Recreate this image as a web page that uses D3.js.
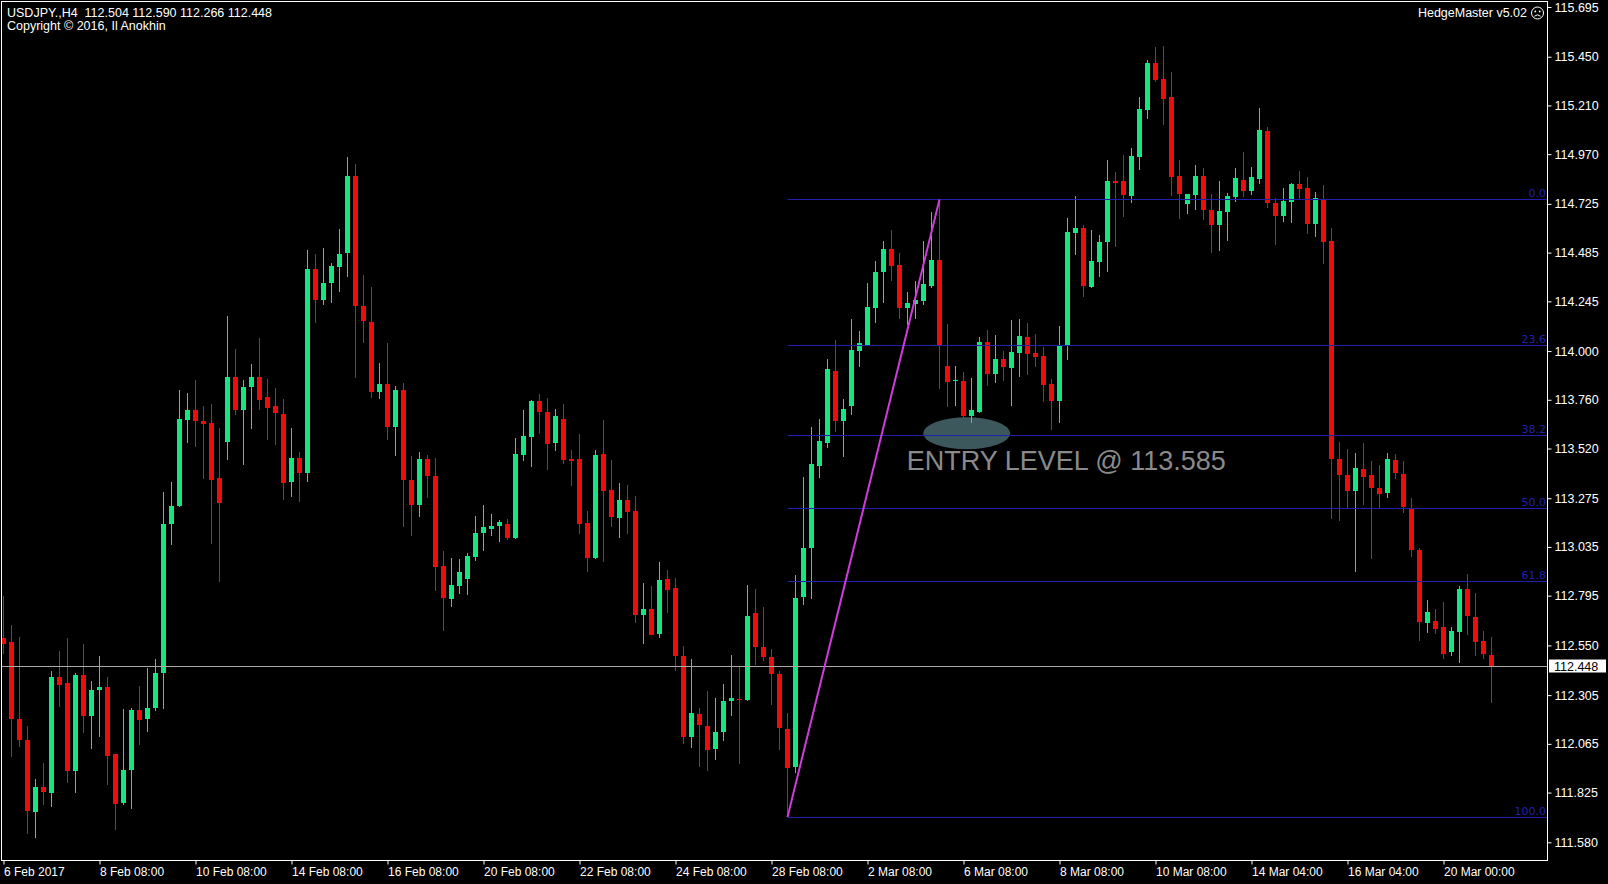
<!DOCTYPE html>
<html><head><meta charset="utf-8">
<script src="https://cdnjs.cloudflare.com/ajax/libs/d3/7.8.5/d3.min.js"></script>
<style>html,body{margin:0;padding:0;background:#000;overflow:hidden}</style>
</head><body><svg id="chart" width="1608" height="884"></svg>
<script>
// ---- DATA (USDJPY H4) ----
const opens = [112.588,112.566,112.185,112.083,111.728,111.850,111.826,112.396,112.366,111.931,112.405,112.202,112.329,112.346,112.016,111.770,111.935,112.232,112.188,112.239,112.413,113.146,113.234,113.660,113.708,113.657,113.647,113.373,113.552,113.874,113.711,113.823,113.874,113.772,113.727,113.691,113.353,113.473,113.399,114.406,114.251,114.336,114.418,114.480,114.860,114.221,114.144,113.799,113.838,113.625,113.808,113.366,113.243,113.468,113.383,112.940,112.783,112.845,112.875,112.986,113.101,113.127,113.137,113.150,113.080,113.489,113.580,113.755,113.702,113.547,113.666,113.470,113.470,113.153,112.982,113.494,113.317,113.181,113.268,113.214,112.703,112.731,112.605,112.878,112.831,112.498,112.097,112.212,112.151,112.036,112.122,112.272,112.286,112.281,112.708,112.540,112.491,112.408,112.140,111.948,112.787,113.028,113.435,113.547,113.903,113.656,113.731,114.001,114.031,114.213,114.386,114.501,114.426,114.213,114.232,114.248,114.323,114.450,113.928,113.853,113.853,113.680,113.700,114.047,113.889,113.962,113.920,113.992,114.071,113.989,113.975,113.838,113.756,114.025,114.582,114.608,114.316,114.439,114.538,114.840,114.837,114.767,114.958,115.185,115.417,115.340,115.250,114.860,114.723,114.767,114.860,114.693,114.619,114.685,114.759,114.844,114.788,114.848,115.083,114.730,114.666,114.735,114.824,114.805,114.628,114.748,114.541,113.469,113.390,113.311,113.419,113.387,113.325,113.297,113.462,113.394,113.225,113.018,112.661,112.672,112.642,112.516,112.615,112.826,112.691,112.572,112.504];
const highs = [112.794,112.650,112.591,112.151,111.894,111.973,112.425,112.520,112.588,112.413,112.557,112.374,112.498,112.396,112.016,112.236,112.244,112.351,112.439,112.481,113.305,113.356,113.806,113.792,113.857,113.728,113.738,113.620,114.173,114.009,113.857,113.936,114.066,113.861,113.817,113.763,113.620,113.505,114.500,114.480,114.510,114.434,114.603,114.958,114.922,114.374,114.316,113.943,114.041,113.828,113.845,113.481,113.505,113.489,113.473,113.014,112.981,112.976,113.006,113.189,113.243,113.199,113.170,113.173,113.571,113.710,113.757,113.787,113.768,113.714,113.738,113.514,113.593,113.214,113.514,113.661,113.461,113.350,113.342,113.288,112.855,112.842,112.960,112.921,112.883,112.547,112.485,112.240,112.326,112.289,112.359,112.502,112.446,112.850,112.827,112.738,112.530,112.422,112.218,112.896,113.379,113.626,113.666,113.962,114.055,113.765,114.159,114.100,114.337,114.446,114.544,114.598,114.485,114.292,114.347,114.540,114.687,114.747,114.134,113.928,113.897,113.869,114.067,114.106,114.080,114.001,114.153,114.156,114.139,114.083,114.021,113.861,114.123,114.657,114.762,114.619,114.595,114.571,114.939,114.881,114.968,115.001,115.253,115.433,115.496,115.504,115.373,114.939,114.775,114.919,114.903,114.775,114.837,114.778,114.903,114.980,114.906,115.196,115.102,114.754,114.801,114.829,114.886,114.858,114.782,114.820,114.604,113.550,113.518,113.499,113.545,113.456,113.437,113.499,113.494,113.456,113.274,113.029,112.774,112.728,112.766,112.642,112.845,112.902,112.808,112.619,112.590];
const lows = [112.506,111.999,112.050,111.620,111.603,111.762,111.754,112.248,111.872,111.821,112.117,112.041,112.100,111.863,111.640,111.765,111.742,112.058,112.121,112.227,112.236,113.044,113.234,113.547,113.525,113.369,113.051,112.862,113.462,113.687,113.440,113.615,113.711,113.560,113.538,113.265,113.281,113.255,113.353,114.136,114.226,114.238,114.292,114.365,113.866,114.041,113.768,113.763,113.560,113.484,113.134,113.088,113.183,113.276,112.818,112.620,112.741,112.801,112.796,112.965,113.014,113.088,113.058,113.070,113.075,113.457,113.429,113.593,113.416,113.506,113.445,113.334,113.101,112.911,112.977,112.960,113.134,113.080,113.101,112.659,112.556,112.600,112.588,112.711,112.425,112.064,112.043,111.950,111.930,111.987,112.081,112.200,111.966,112.276,112.452,112.471,112.258,112.033,111.704,111.922,112.748,112.777,113.376,113.522,113.601,113.478,113.686,113.922,114.027,114.140,114.238,114.347,114.160,114.130,114.160,114.225,114.311,113.814,113.725,113.731,113.561,113.646,113.696,113.830,113.843,113.853,113.730,113.874,113.882,113.923,113.751,113.609,113.648,113.956,114.472,114.264,114.313,114.366,114.390,114.513,114.660,114.729,114.890,115.144,115.324,115.116,114.762,114.652,114.673,114.696,114.647,114.483,114.493,114.542,114.734,114.759,114.767,114.824,114.703,114.523,114.636,114.632,114.748,114.575,114.560,114.429,113.174,113.161,113.225,112.911,113.240,112.977,113.225,113.278,113.368,113.202,112.986,112.572,112.610,112.604,112.484,112.497,112.465,112.600,112.497,112.484,112.266];
const closes = [112.557,112.185,112.080,111.731,111.850,111.826,112.396,112.358,111.931,112.405,112.202,112.332,112.346,112.007,111.770,111.935,112.232,112.185,112.244,112.413,113.149,113.237,113.665,113.711,113.654,113.643,113.366,113.251,113.874,113.711,113.823,113.874,113.762,113.718,113.691,113.353,113.473,113.399,114.406,114.251,114.336,114.418,114.480,114.860,114.221,114.149,113.799,113.838,113.625,113.808,113.363,113.243,113.468,113.383,112.937,112.783,112.850,112.914,112.990,113.104,113.132,113.140,113.157,113.080,113.494,113.583,113.755,113.702,113.542,113.681,113.465,113.462,113.150,112.982,113.489,113.314,113.186,113.268,113.211,112.703,112.731,112.605,112.872,112.826,112.495,112.097,112.217,112.158,112.031,112.122,112.277,112.289,112.281,112.695,112.540,112.491,112.408,112.140,111.948,112.783,113.028,113.443,113.557,113.913,113.656,113.715,114.007,114.041,114.219,114.390,114.501,114.416,114.213,114.238,114.252,114.331,114.450,114.031,113.849,113.858,113.680,113.711,114.047,113.889,113.962,113.922,113.997,114.074,113.985,113.969,113.833,113.756,114.025,114.586,114.608,114.324,114.444,114.538,114.837,114.832,114.767,114.963,115.193,115.417,115.335,115.242,114.857,114.772,114.772,114.860,114.693,114.619,114.690,114.762,114.852,114.791,114.857,115.087,114.730,114.666,114.741,114.824,114.801,114.628,114.754,114.534,113.466,113.390,113.311,113.424,113.381,113.325,113.297,113.466,113.400,113.231,113.018,112.661,112.717,112.634,112.510,112.619,112.826,112.691,112.567,112.510,112.448];

const timeLabels = ["6 Feb 2017","8 Feb 08:00","10 Feb 08:00","14 Feb 08:00","16 Feb 08:00","20 Feb 08:00","22 Feb 08:00","24 Feb 08:00","28 Feb 08:00","2 Mar 08:00","6 Mar 08:00","8 Mar 08:00","10 Mar 08:00","14 Mar 04:00","16 Mar 04:00","20 Mar 00:00"];
const timeLabelBars = [0,12,24,36,48,60,72,84,96,108,120,132,144,156,168,180];
const priceTicks = [115.695,115.450,115.210,114.970,114.725,114.485,114.245,114.000,113.760,113.520,113.275,113.035,112.795,112.550,112.305,112.065,111.825,111.580];
const fibLevels = [0.0, 23.6, 38.2, 50.0, 61.8, 100.0];
const fibHighPrice = 114.747, fibLowPrice = 111.704;
const fibLowBar = 98, fibHighBar = 117;
const lastPrice = 112.448;
const entryPrice = 113.585;
const headerText = "USDJPY.,H4  112.504 112.590 112.266 112.448";
const copyrightText = "Copyright \u00A9 2016, Il Anokhin";
const eaText = "HedgeMaster v5.02";
const entryText = "ENTRY LEVEL @ " + entryPrice.toFixed(3);

// ---- LAYOUT ----
const W = 1608, H = 884;
const plotL = 1.5, plotT = 1.5, plotR = 1547.5, plotB = 860.5;
const bull = "#14e683", bear = "#ee0d0d";
const fibColor = "#2121ae";
const font = "'Liberation Sans', Arial, sans-serif";

const svg = d3.select("#chart");
svg.append("rect").attr("width", W).attr("height", H).attr("fill", "#000");

const x = d3.scaleLinear().domain([0, 186]).range([3.5, 3.5 + 8 * 186]);
const y = d3.scaleLinear().domain([111.580, 115.695]).range([842.3, 7]);

svg.append("defs").append("clipPath").attr("id", "plotclip")
  .append("rect").attr("x", plotL + 0.5).attr("y", plotT + 0.5)
  .attr("width", plotR - plotL - 1).attr("height", plotB - plotT - 1);

const plot = svg.append("g").attr("clip-path", "url(#plotclip)");

// entry ellipse (background object)
const ex = x(120.4), ey = y(entryPrice) - 2;
plot.append("ellipse").attr("cx", ex).attr("cy", ey).attr("rx", 43.5).attr("ry", 16)
  .attr("fill", "#3d585c");

// candles
const bars = d3.range(opens.length).map(i => ({i, o: opens[i], h: highs[i], l: lows[i], c: closes[i]}));
const cg = plot.append("g");
cg.selectAll("line.wick").data(bars).join("line")
  .attr("x1", d => x(d.i)).attr("x2", d => x(d.i))
  .attr("y1", d => Math.round(y(d.h))).attr("y2", d => Math.round(y(d.l)))
  .attr("stroke", d => d.c >= d.o ? bull : bear).attr("stroke-width", 1);
cg.selectAll("rect.body").data(bars).join("rect")
  .attr("x", d => x(d.i) - 2.5).attr("width", 5)
  .attr("y", d => Math.round(y(Math.max(d.o, d.c))))
  .attr("height", d => Math.max(1, Math.round(Math.abs(y(d.o) - y(d.c)))))
  .attr("fill", d => d.c >= d.o ? bull : bear);

// fibonacci levels
const fibRange = fibHighPrice - fibLowPrice;
const fg = plot.append("g");
fibLevels.forEach(lv => {
  const p = fibHighPrice - fibRange * lv / 100;
  const yy = Math.round(y(p)) + 0.5;
  fg.append("line").attr("x1", x(fibLowBar)).attr("x2", plotR).attr("y1", yy).attr("y2", yy)
    .attr("stroke", fibColor).attr("stroke-width", 1);
  fg.append("text").attr("x", plotR - 1.5).attr("y", yy - 2.5).attr("text-anchor", "end")
    .attr("font-family", "'DejaVu Sans', sans-serif").attr("font-size", 11)
    .attr("fill", fibColor).text(lv.toFixed(1));
});

// current price line
const ly = Math.round(y(lastPrice)) + 0.5;
plot.append("line").attr("x1", plotL).attr("x2", plotR).attr("y1", ly).attr("y2", ly)
  .attr("stroke", "#a8a8a8").attr("stroke-width", 1);

// trend line
plot.append("line")
  .attr("x1", x(fibLowBar)).attr("y1", y(fibLowPrice))
  .attr("x2", x(fibHighBar)).attr("y2", y(fibHighPrice))
  .attr("stroke", "#d03cdc").attr("stroke-width", 2);

// entry text
plot.append("text").attr("x", x(112.9)).attr("y", 470)
  .attr("font-family", font).attr("font-size", 27).attr("fill", "#8a8a8a")
  .text(entryText);

// frame
svg.append("rect").attr("x", plotL).attr("y", plotT).attr("width", plotR - plotL).attr("height", plotB - plotT)
  .attr("fill", "none").attr("stroke", "#ffffff").attr("stroke-width", 1);

// price axis
const ya = svg.append("g").attr("transform", `translate(${plotR},0)`)
  .call(d3.axisRight(y).tickValues(priceTicks).tickFormat(d3.format(".3f")).tickSize(4).tickPadding(3));
ya.select(".domain").remove();
ya.selectAll(".tick line").attr("stroke", "#fff");
ya.selectAll(".tick text").attr("fill", "#fff").attr("font-family", font).attr("font-size", 12.5);

// time axis
const xa = svg.append("g").attr("transform", `translate(0,${plotB})`)
  .call(d3.axisBottom(x).tickValues(timeLabelBars).tickFormat((d, k) => timeLabels[k]).tickSize(4).tickPadding(3));
xa.select(".domain").remove();
xa.selectAll(".tick line").attr("stroke", "#fff");
xa.selectAll(".tick text").attr("fill", "#fff").attr("font-family", font).attr("font-size", 12)
  .attr("text-anchor", "start");

// current price label
const lp = svg.append("g");
lp.append("rect").attr("x", plotR + 1.5).attr("y", ly - 7).attr("width", 57).attr("height", 13).attr("fill", "#fff");
lp.append("text").attr("x", plotR + 6.5).attr("y", ly).attr("dy", "0.35em")
  .attr("font-family", font).attr("font-size", 12.5).attr("fill", "#000").text(lastPrice.toFixed(3));

// header texts
svg.append("text").attr("x", 7).attr("y", 17).attr("font-family", font).attr("font-size", 12.5)
  .attr("fill", "#fff").attr("xml:space", "preserve").style("white-space", "pre").text(headerText);
svg.append("text").attr("x", 7).attr("y", 29.5).attr("font-family", font).attr("font-size", 12.5)
  .attr("fill", "#fff").text(copyrightText);
svg.append("text").attr("x", 1527).attr("y", 17).attr("text-anchor", "end").attr("font-family", font)
  .attr("font-size", 12.5).attr("fill", "#fff").text(eaText);

// sad face icon
const face = svg.append("g").attr("transform", "translate(1537.5,13)").attr("fill", "none").attr("stroke", "#fff");
face.append("circle").attr("r", 6).attr("stroke-width", 1);
face.append("circle").attr("cx", -2.2).attr("cy", -1.6).attr("r", 0.9).attr("fill", "#fff").attr("stroke", "none");
face.append("circle").attr("cx", 2.2).attr("cy", -1.6).attr("r", 0.9).attr("fill", "#fff").attr("stroke", "none");
face.append("path").attr("d", "M-3,3.2 Q0,0.4 3,3.2").attr("stroke-width", 1);
</script></body></html>
